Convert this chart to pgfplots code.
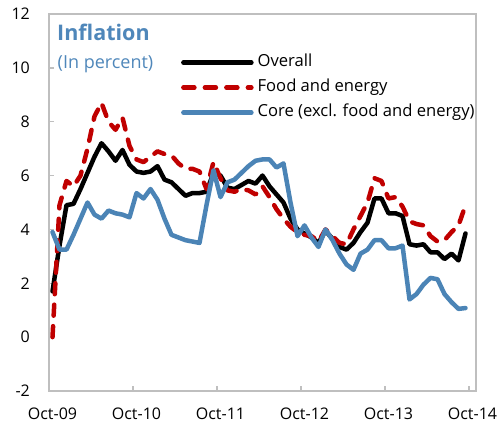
\documentclass[border=0pt]{standalone}
\usepackage{pgfplots}
\pgfplotsset{compat=1.18}
\usepackage{pgfplotstable}
\usepackage{fontspec}
\setmainfont{Open Sans}
\definecolor{coreblue}{RGB}{75,132,182}
\definecolor{titleblue}{RGB}{79,135,186}
\definecolor{fered}{RGB}{192,0,0}
\definecolor{axgray}{RGB}{191,191,191}

\pgfplotstableread{
m overall food core
0 1.7 0.0 3.9
1 3.4 4.9 3.25
2 4.9 5.8 3.25
3 4.95 5.6 3.8
4 5.5 6.0 4.4
5 6.1 7.0 5.0
6 6.7 8.2 4.55
7 7.2 8.7 4.4
8 6.9 8.0 4.7
9 6.55 7.7 4.6
10 6.95 8.15 4.55
11 6.4 7.1 4.45
12 6.15 6.6 5.35
13 6.1 6.5 5.15
14 6.15 6.7 5.5
15 6.35 6.9 5.1
16 5.85 6.8 4.4
17 5.75 6.75 3.8
18 5.5 6.45 3.7
19 5.25 6.25 3.6
20 5.35 6.25 3.55
21 5.35 6.15 3.5
22 5.4 5.5 4.9
23 6.1 6.5 6.2
24 6.0 5.9 5.2
25 5.55 5.45 5.75
26 5.5 5.4 5.85
27 5.65 5.5 6.1
28 5.8 5.45 6.35
29 5.7 5.3 6.55
30 6.0 5.6 6.6
31 5.6 5.2 6.6
32 5.3 4.75 6.3
33 5.0 4.4 6.45
34 4.4 4.1 5.0
35 4.0 3.9 3.75
36 3.85 3.8 4.15
37 3.7 3.75 3.7
38 3.5 3.55 3.35
39 3.95 4.0 4.0
40 3.65 3.75 3.6
41 3.35 3.5 3.1
42 3.25 3.45 2.7
43 3.5 4.0 2.5
44 3.9 4.5 3.1
45 4.25 5.0 3.25
46 5.15 5.9 3.6
47 5.15 5.8 3.6
48 4.6 5.15 3.3
49 4.6 5.2 3.3
50 4.5 4.85 3.4
51 3.45 4.3 1.4
52 3.4 4.2 1.6
53 3.45 4.15 1.95
54 3.15 3.75 2.2
55 3.15 3.55 2.15
56 2.9 3.6 1.6
57 3.1 3.9 1.3
58 2.85 4.15 1.05
59 3.85 4.9 1.08
}\datatable

\begin{document}
\begin{tikzpicture}
\begin{axis}[
  name=ax,
  scale only axis,
  width=427bp, height=377bp,
  xmin=-0.5, xmax=60.5,
  ymin=-2, ymax=12,
  axis line style={draw=axgray, line width=1.8bp},
  tick style={draw=axgray, line width=1.4bp},
  major tick length=5bp,
  tick align=inside,
  xtick pos=bottom, ytick pos=left,
  xtick={11.5,23.5,35.5,47.5,59.5},
  xticklabels={},
  extra x ticks={0,12,24,36,48,60},
  extra x tick labels={Oct-09,Oct-10,Oct-11,Oct-12,Oct-13,Oct-14},
  extra x tick style={major tick length=0pt},
  ytick={-2,0,2,4,6,8,10,12},
  /pgf/number format/assume math mode=true,
  tick label style={font=\fontsize{16bp}{19bp}\selectfont, text=black},
  yticklabel style={inner sep=0pt, anchor=east, xshift=-19bp},
  xticklabel style={inner sep=0pt, anchor=north, yshift=-17bp},
  legend style={at={(axis description cs:0.309,1)}, anchor=north west,
    xshift=0bp, yshift=-41bp,
    draw=none, fill=none, inner sep=0pt,
    font=\fontsize{16.6bp}{19bp}\selectfont,
    row sep=10bp,
    nodes={inner sep=0pt, text height=11.5bp, text depth=3.5bp},
    /tikz/every odd column/.append style={column sep=4bp}},
  legend cell align=left,
  legend image code/.code={\draw[#1] (0bp,0bp) -- (68bp,0bp);},
]
\addplot[black, line width=4.5bp, line join=round, line cap=round] table[x=m, y=overall] {\datatable};
\addlegendentry{Overall}
\addplot[fered, line width=4.5bp, line join=round, line cap=round, dash pattern=on 11bp off 10.5bp] table[x=m, y=food] {\datatable};
\addlegendentry{Food and energy}
\addplot[coreblue, line width=4.5bp, line join=round, line cap=round] table[x=m, y=core] {\datatable};
\addlegendentry{Core (excl. food and energy)}
\end{axis}
\node[anchor=base west, inner sep=0pt, text=titleblue, font=\bfseries\fontsize{21.5bp}{25bp}\selectfont] at ([xshift=8bp, yshift=-26.5bp]ax.north west) {Inflation};
\node[anchor=base west, inner sep=0pt, text=titleblue, font=\fontsize{18bp}{21bp}\selectfont] at ([xshift=8.5bp, yshift=-55bp]ax.north west) {(In percent)};
\pgfresetboundingbox
\path[use as bounding box] ([shift={(-49bp,-38bp)}]ax.south west) rectangle ([shift={(27bp,14bp)}]ax.north east);
\end{tikzpicture}
\end{document}
